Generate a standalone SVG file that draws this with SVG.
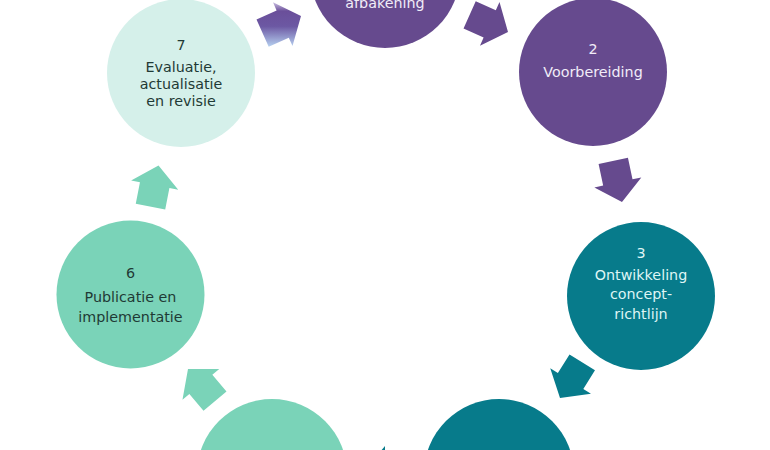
<svg xmlns="http://www.w3.org/2000/svg" xmlns:xlink="http://www.w3.org/1999/xlink" width="770" height="450" viewBox="0 0 770 450">
<style>
  .lbl { font-family: "DejaVu Sans", Verdana, sans-serif; font-size: 14.3px; text-anchor: middle; }
  .lp { fill: #f1ecf8; }
  .lt { fill: #dff5f5; }
  .ld { fill: #1f3a35; }
  .purple { fill: #664a8e; }
  .teal { fill: #077b8b; }
  .green { fill: #7ad3b8; }
  .mint { fill: #d5f0ea; }
</style>
<defs>
  <path id="arw" d="M-42,-15 L-20,-15 L-20,-24 L0,0 L-20,24 L-20,15 L-42,15 Z"/>
  <linearGradient id="fade" gradientUnits="userSpaceOnUse" x1="0" y1="1" x2="0" y2="47">
    <stop offset="0" stop-color="#d9d1ec"/>
    <stop offset="0.22" stop-color="#6a4f9a"/>
    <stop offset="0.55" stop-color="#6c58a3"/>
    <stop offset="1" stop-color="#b7d2f1"/>
  </linearGradient>
</defs>
<rect width="770" height="450" fill="#ffffff"/>

<g id="connectors">
  <polygon points="256.5,19.4 276.6,10.4 273,2.2 301,16 292.5,46.1 288.8,37.8 268.7,46.8" fill="url(#fade)"/>
  <use xlink:href="#arw" transform="translate(508,32) rotate(24)" class="purple"/>
  <use xlink:href="#arw" transform="translate(622,202) rotate(78)" class="purple"/>
  <use xlink:href="#arw" transform="translate(560,398) rotate(122)" class="teal"/>
  <use xlink:href="#arw" transform="translate(365,470) rotate(180)" class="teal"/>
  <use xlink:href="#arw" transform="translate(188,369) rotate(-130)" class="green"/>
  <use xlink:href="#arw" transform="translate(158.5,165.5) rotate(-79)" class="green"/>
</g>

<g id="node1">
  <circle cx="385" cy="-27" r="75" class="purple"/>
  <text x="385" y="8" class="lbl lp">afbakening</text>
</g>

<g id="node2">
  <circle cx="593" cy="72" r="74" class="purple"/>
  <text x="593" y="54" class="lbl lp">2</text>
  <text x="593" y="77" class="lbl lp">Voorbereiding</text>
</g>

<g id="node3">
  <circle cx="641" cy="296" r="74" class="teal"/>
  <text x="641" y="258" class="lbl lt">3</text>
  <text x="641" y="280" class="lbl lt">Ontwikkeling</text>
  <text x="641" y="299" class="lbl lt">concept-</text>
  <text x="641" y="319" class="lbl lt">richtlijn</text>
</g>

<g id="node4">
  <circle cx="499" cy="474" r="75" class="teal"/>
</g>

<g id="node5">
  <circle cx="272" cy="474" r="75" class="green"/>
</g>

<g id="node6">
  <circle cx="130.5" cy="294.5" r="74" class="green"/>
  <text x="130.5" y="278" class="lbl ld">6</text>
  <text x="130.5" y="301.5" class="lbl ld">Publicatie en</text>
  <text x="130.5" y="322" class="lbl ld">implementatie</text>
</g>

<g id="node7">
  <circle cx="181" cy="73" r="74" class="mint"/>
  <text x="181" y="50" class="lbl ld">7</text>
  <text x="181" y="72" class="lbl ld">Evaluatie,</text>
  <text x="181" y="89" class="lbl ld">actualisatie</text>
  <text x="181" y="106" class="lbl ld">en revisie</text>
</g>
</svg>
